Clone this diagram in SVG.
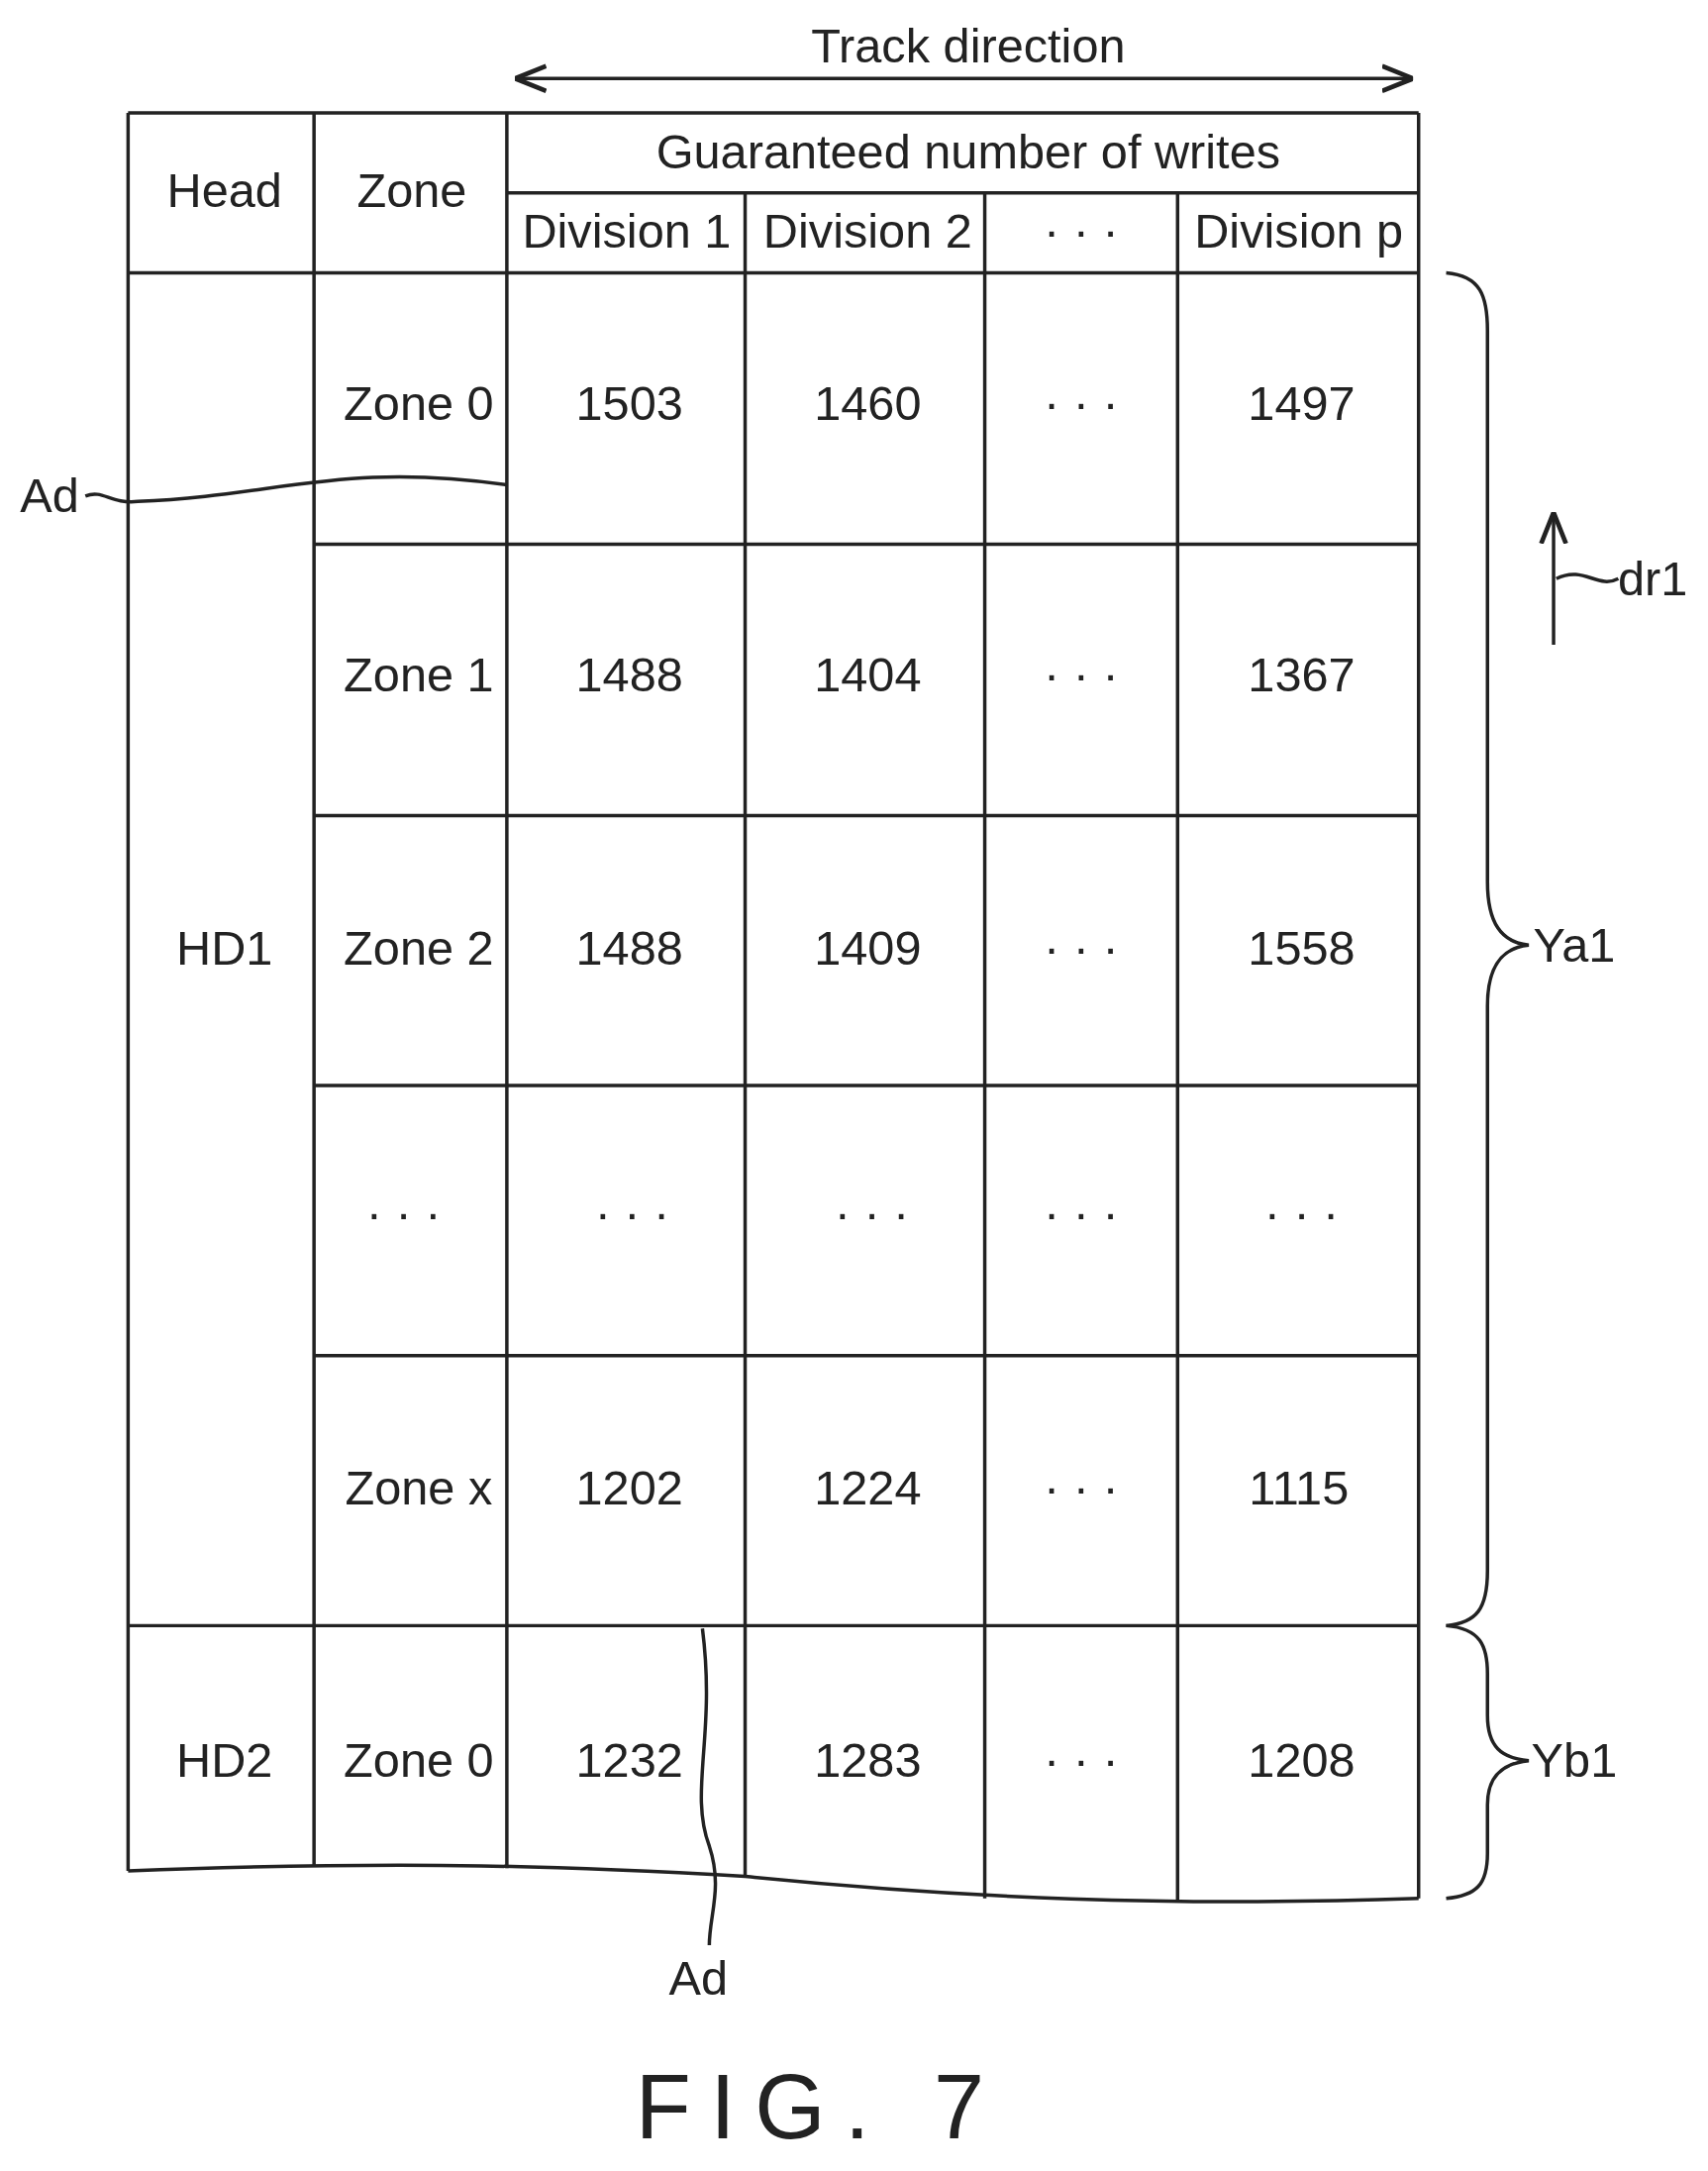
<svg xmlns="http://www.w3.org/2000/svg" width="1725" height="2192" viewBox="0 0 1725 2192">
<style>
.l{stroke:#222;stroke-width:2.5;fill:none}
text{font-family:"Liberation Sans",Arial,sans-serif;font-size:35px;fill:#222;text-anchor:middle}
</style>
<defs><marker id="a" viewBox="0 0 10 10" refX="10" refY="5" markerWidth="9" markerHeight="9" orient="auto-start-reverse"><path d="M0,1 L10,5 L0,9" fill="none" stroke="#222" stroke-width="1.5"/></marker></defs>
<rect width="1725" height="2192" fill="#fff"/>
<g transform="scale(1.391)">
<g id="table">
<path class="l" d="M93,82 H1030 M368,140 H1030 M93,198 H1030 M228,395 H1030 M228,592 H1030 M228,788 H1030 M228,984 H1030 M93,1180 H1030"/>
<path class="l" d="M93,82 V1358 M228,82 V1355 M368,82 V1356 M541,140 V1362 M715,140 V1378 M855,140 V1381 M1030,82 V1378"/>
<path class="l" d="M93,1358 C300,1350 420,1355 541,1362 C700,1378 850,1384 1030,1378"/>
</g>
<g id="headers">
<text x="163" y="150">Head</text><text x="299" y="150">Zone</text>
<text x="703" y="122">Guaranteed number of writes</text>
<text x="455" y="180">Division 1</text><text x="630" y="180">Division 2</text><text x="785" y="180">· · ·</text><text x="943" y="180">Division p</text>
</g>
<g id="rows">
<text x="163" y="700">HD1</text><text x="163" y="1290">HD2</text>
<text x="304" y="305">Zone 0</text><text x="457" y="305">1503</text><text x="630" y="305">1460</text><text x="785" y="305">· · ·</text><text x="945" y="305">1497</text>
<text x="304" y="502">Zone 1</text><text x="457" y="502">1488</text><text x="630" y="502">1404</text><text x="785" y="502">· · ·</text><text x="945" y="502">1367</text>
<text x="304" y="700">Zone 2</text><text x="457" y="700">1488</text><text x="630" y="700">1409</text><text x="785" y="700">· · ·</text><text x="945" y="700">1558</text>
<text x="293" y="893">· · ·</text><text x="459" y="893">· · ·</text><text x="633" y="893">· · ·</text><text x="785" y="893">· · ·</text><text x="945" y="893">· · ·</text>
<text x="304" y="1092">Zone x</text><text x="457" y="1092">1202</text><text x="630" y="1092">1224</text><text x="785" y="1092">· · ·</text><text x="943" y="1092">1115</text>
<text x="304" y="1290">Zone 0</text><text x="457" y="1290">1232</text><text x="630" y="1290">1283</text><text x="785" y="1290">· · ·</text><text x="945" y="1290">1208</text>
</g>
<g id="connectors">
<line class="l" x1="374" y1="57" x2="1026" y2="57" marker-start="url(#a)" marker-end="url(#a)"/>
<line class="l" x1="1128" y1="468" x2="1128" y2="372" marker-end="url(#a)"/>
<path class="l" d="M1130,420 C1150,410 1160,428 1175,420"/>
<path class="l" d="M62,360 C75,355 80,366 100,364 C200,360 250,335 368,352"/>
<path class="l" d="M510,1182 C520,1260 500,1300 515,1340 C525,1370 515,1390 515,1412"/>
<path class="l" d="M1050,198 C1075,200 1080,215 1080,240 V640 C1080,670 1090,684 1110,686 C1090,688 1080,702 1080,730 V1140 C1080,1168 1072,1178 1050,1180"/>
<path class="l" d="M1050,1180 C1075,1182 1080,1195 1080,1215 V1245 C1080,1268 1090,1276 1110,1278 C1090,1280 1080,1290 1080,1310 V1345 C1080,1368 1072,1376 1050,1378"/>
</g>
<g id="labels">
<text x="703" y="45">Track direction</text>
<text x="36" y="372">Ad</text><text x="507" y="1448">Ad</text>
<text x="1200" y="432">dr1</text><text x="1143" y="698">Ya1</text><text x="1143" y="1290">Yb1</text>
<text x="595" y="1552" style="font-size:66px;letter-spacing:14px">FIG. 7</text>
</g>
</g>
</svg>
